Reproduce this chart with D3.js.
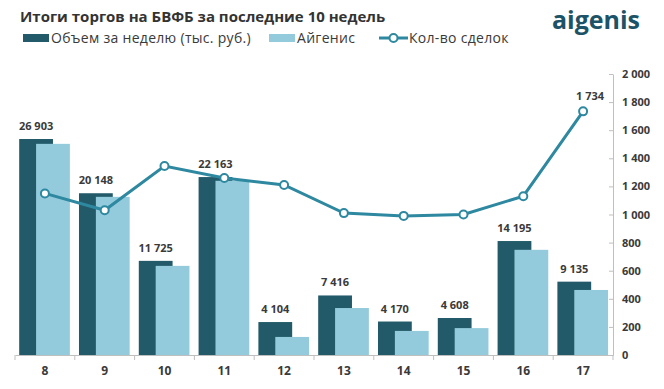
<!DOCTYPE html>
<html>
<head>
<meta charset="UTF-8">
<title>Итоги торгов на БВФБ</title>
<script src="https://d3js.org/d3.v7.min.js"></script>
<style>
  body { margin: 0; background: #fff; }
  svg { display: block; font-family: "Open Sans", "DejaVu Sans", sans-serif; }
</style>
</head>
<body>
<svg id="chart" width="664" height="389"></svg>
<script>
// data
const weeks = ["8", "9", "10", "11", "12", "13", "14", "15", "16", "17"];
const volume = [26903, 20148, 11725, 22163, 4104, 7416, 4170, 4608, 14195, 9135];
const aigenis = [26300, 19700, 11100, 21700, 2250, 5850, 3000, 3350, 13100, 8100];
const deals = [1150, 1030, 1345, 1260, 1210, 1010, 990, 1000, 1130, 1734];
const rightTicks = [0, 200, 400, 600, 800, 1000, 1200, 1400, 1600, 1800, 2000];

const dark = "#225a69", light = "#93cbdc", lineCol = "#2d88a0", axisCol = "#bfbfbf", txt = "#3a3a3a";

const svg = d3.select("#chart");
const plotL = 15, plotR = 613, plotT = 74, plotB = 355;

const x = d3.scaleBand().domain(weeks).range([plotL, plotR]).padding(0);
const yL = d3.scaleLinear().domain([0, 35000]).range([plotB, plotT]);
const yR = d3.scaleLinear().domain([0, 2000]).range([plotB, plotT]);
const bw = x.bandwidth();
const barW = bw * 0.565;
const off = bw * 0.07;

const fmt = d3.formatLocale({ decimal: ",", thousands: " ", grouping: [3] }).format(",d");

// title + logo
svg.append("text").attr("x", 20).attr("y", 22)
  .attr("font-size", 15).attr("font-weight", 700).attr("fill", "#333")
  .text("Итоги торгов на БВФБ за последние 10 недель");
svg.append("text").attr("x", 552).attr("y", 29)
  .attr("font-size", 25).attr("font-weight", 700).attr("fill", "#1d5367")
  .attr("textLength", 88).attr("lengthAdjust", "spacingAndGlyphs")
  .text("aigenis");

// legend
const lg = svg.append("g").attr("font-size", 14).attr("letter-spacing", 0.3).attr("fill", txt);
lg.append("rect").attr("x", 23).attr("y", 34).attr("width", 26).attr("height", 8).attr("fill", dark);
lg.append("text").attr("x", 51).attr("y", 43).text("Объем за неделю (тыс. руб.)");
lg.append("rect").attr("x", 269).attr("y", 34).attr("width", 26).attr("height", 8).attr("fill", light);
lg.append("text").attr("x", 297).attr("y", 43).text("Айгенис");
lg.append("line").attr("x1", 379).attr("x2", 408).attr("y1", 38).attr("y2", 38)
  .attr("stroke", lineCol).attr("stroke-width", 3);
lg.append("circle").attr("cx", 393.5).attr("cy", 38).attr("r", 4)
  .attr("fill", "#fff").attr("stroke", lineCol).attr("stroke-width", 2);
lg.append("text").attr("x", 409).attr("y", 43).text("Кол-во сделок");

// bars
const g = svg.append("g");
g.selectAll("rect.dark").data(weeks).join("rect").attr("class", "dark")
  .attr("x", d => x(d) + off).attr("width", barW)
  .attr("y", (d, i) => yL(volume[i])).attr("height", (d, i) => plotB - yL(volume[i]))
  .attr("fill", dark);
g.selectAll("rect.light").data(weeks).join("rect").attr("class", "light")
  .attr("x", d => x(d) + off + barW / 2).attr("width", barW)
  .attr("y", (d, i) => yL(aigenis[i])).attr("height", (d, i) => plotB - yL(aigenis[i]))
  .attr("fill", light);
g.selectAll("text.vol").data(weeks).join("text").attr("class", "vol")
  .attr("x", d => x(d) + off + barW / 2).attr("y", (d, i) => yL(volume[i]) - 9)
  .attr("text-anchor", "middle").attr("font-size", 11).attr("font-weight", 700).attr("fill", txt)
  .text((d, i) => fmt(volume[i]));

// bottom axis
const xa = svg.append("g").attr("transform", `translate(0,${plotB})`)
  .call(d3.axisBottom(x).tickSize(0).tickPadding(11));
xa.select(".domain").attr("stroke", axisCol);
xa.selectAll("text").attr("font-size", 12).attr("font-weight", 700).attr("fill", txt)
  .attr("font-family", "'Open Sans', sans-serif");
xa.selectAll("line.edge").data(weeks.concat(["end"])).join("line").attr("class", "edge")
  .attr("x1", (d, i) => i < weeks.length ? x(d) : plotR)
  .attr("x2", (d, i) => i < weeks.length ? x(d) : plotR)
  .attr("y1", 0).attr("y2", 5).attr("stroke", axisCol);

// right axis
const ya = svg.append("g").attr("transform", `translate(${plotR},0)`)
  .call(d3.axisRight(yR).tickValues(rightTicks).tickSizeInner(-4).tickSizeOuter(0).tickPadding(9).tickFormat(fmt));
ya.select(".domain").attr("stroke", axisCol);
ya.selectAll(".tick line").attr("stroke", axisCol);
ya.selectAll("text").attr("font-size", 11).attr("font-weight", 700).attr("fill", txt)
  .attr("font-family", "'Open Sans', sans-serif");

// deals line
const cx = d => x(d) + bw / 2;
svg.append("path").datum(weeks)
  .attr("d", d3.line().x(cx).y((d, i) => yR(deals[i])))
  .attr("fill", "none").attr("stroke", lineCol).attr("stroke-width", 3);
svg.selectAll("circle.pt").data(weeks).join("circle").attr("class", "pt")
  .attr("cx", cx).attr("cy", (d, i) => yR(deals[i])).attr("r", 4)
  .attr("fill", "#fff").attr("stroke", lineCol).attr("stroke-width", 2);
const last = weeks.length - 1;
svg.append("text").attr("x", cx(weeks[last]) + 7).attr("y", yR(deals[last]) - 11)
  .attr("text-anchor", "middle").attr("font-size", 11).attr("font-weight", 700).attr("fill", txt)
  .text(fmt(deals[last]));
</script>
</body>
</html>
